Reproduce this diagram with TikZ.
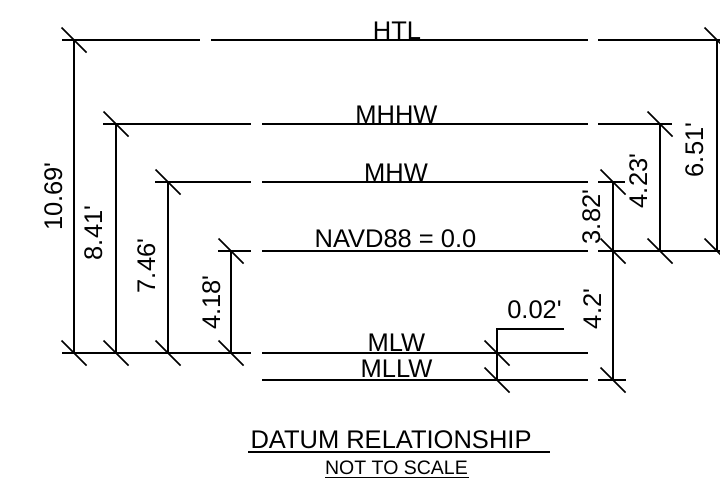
\documentclass[tikz,border=0pt]{standalone}
\usepackage{fontspec}
\setmainfont{Liberation Sans}
\newcommand\ftmark{\textquotesingle}
\begin{document}
\begin{tikzpicture}[x=1pt,y=-1pt,
  ln/.style={line width=2pt},
  lbl/.style={inner sep=0pt, anchor=base, font=\fontsize{25.5}{30}\selectfont},
  vlbl/.style={lbl, rotate=90},
  small/.style={inner sep=0pt, anchor=base, font=\fontsize{19.5}{23}\selectfont},
  tk/.pic={\draw[line width=1.7pt] (-12.5,-12.5) -- (12.5,12.5);}]
\useasboundingbox (0,0) rectangle (720,479);
\clip (0,0) rectangle (720,479);
\fill[white] (0,0) rectangle (720,479);
% datum levels
\def\yHTL{40}\def\yMHHW{124}\def\yMHW{182}\def\yNAVD{251}\def\yMLW{353}\def\yMLLW{380}
% horizontal lines
\draw[ln] (62,\yHTL) -- (200,\yHTL) (211,\yHTL) -- (588,\yHTL) (598,\yHTL) -- (730,\yHTL);
\draw[ln] (103,\yMHHW) -- (251,\yMHHW) (262,\yMHHW) -- (588,\yMHHW) (598,\yMHHW) -- (672,\yMHHW);
\draw[ln] (155,\yMHW) -- (251,\yMHW) (262,\yMHW) -- (588,\yMHW) (598,\yMHW) -- (625,\yMHW);
\draw[ln] (218,\yNAVD) -- (251,\yNAVD) (262,\yNAVD) -- (588,\yNAVD) (598,\yNAVD) -- (730,\yNAVD);
\draw[ln] (62,\yMLW) -- (251,\yMLW) (262,\yMLW) -- (588,\yMLW);
\draw[ln] (262,\yMLLW) -- (588,\yMLLW) (598,\yMLLW) -- (626,\yMLLW);
% vertical dimension lines
\draw[ln] (74,\yHTL) -- (74,\yMLW);
\draw[ln] (116,\yMHHW) -- (116,\yMLW);
\draw[ln] (168,\yMHW) -- (168,\yMLW);
\draw[ln] (231,\yNAVD) -- (231,\yMLW);
\draw[ln] (564,329) -- (497,329) -- (497,\yMLLW);
\draw[ln] (613,\yMHW) -- (613,\yMLLW);
\draw[ln] (660,\yMHHW) -- (660,\yNAVD);
\draw[ln] (717,\yHTL) -- (717,\yNAVD);
% ticks
\foreach \p in {(74,\yHTL),(74,\yMLW),(116,\yMHHW),(116,\yMLW),(168,\yMHW),(168,\yMLW),
  (231,\yNAVD),(231,\yMLW),(497,\yMLW),(497,\yMLLW),(613,\yMHW),(613,\yNAVD),(613,\yMLLW),
  (660,\yMHHW),(660,\yNAVD),(717,\yHTL),(717,\yNAVD)}
  \pic at \p {tk};
% level labels
\node[lbl] (htl) at (397,39) {HTL};
\node[lbl] (mhhw) at (396.5,123) {MHHW};
\node[lbl] (mhw) at (396,181) {MHW};
\node[lbl] (navd) at (395.5,247) {NAVD88 = 0.0};
\node[lbl] (mlw) at (396.5,351) {MLW};
\node[lbl] (mllw) at (396.5,377) {MLLW};
\node[lbl] (d002) at (534.5,318) {0.02\ftmark};
% dimension labels
\node[vlbl] (d1069) at (62,196.5) {10.69\ftmark};
\node[vlbl] (d841) at (102,233) {8.41\ftmark};
\node[vlbl] (d746) at (155,266) {7.46\ftmark};
\node[vlbl] (d418) at (220,302.5) {4.18\ftmark};
\node[vlbl] (d382) at (600,217) {3.82\ftmark};
\node[vlbl] (d423) at (647,181) {4.23\ftmark};
\node[vlbl] (d651) at (703,150) {6.51\ftmark};
\node[vlbl] (d42) at (601,309) {4.2\ftmark};
% title
\node[lbl] (title) at (391,448) {DATUM RELATIONSHIP};
\draw[ln] (248,452) -- (550,452);
\node[small] (nts) at (396.5,474.5) {NOT TO SCALE};
\draw[line width=1.6pt] (325,477.5) -- (469,477.5);
\end{tikzpicture}
\end{document}
